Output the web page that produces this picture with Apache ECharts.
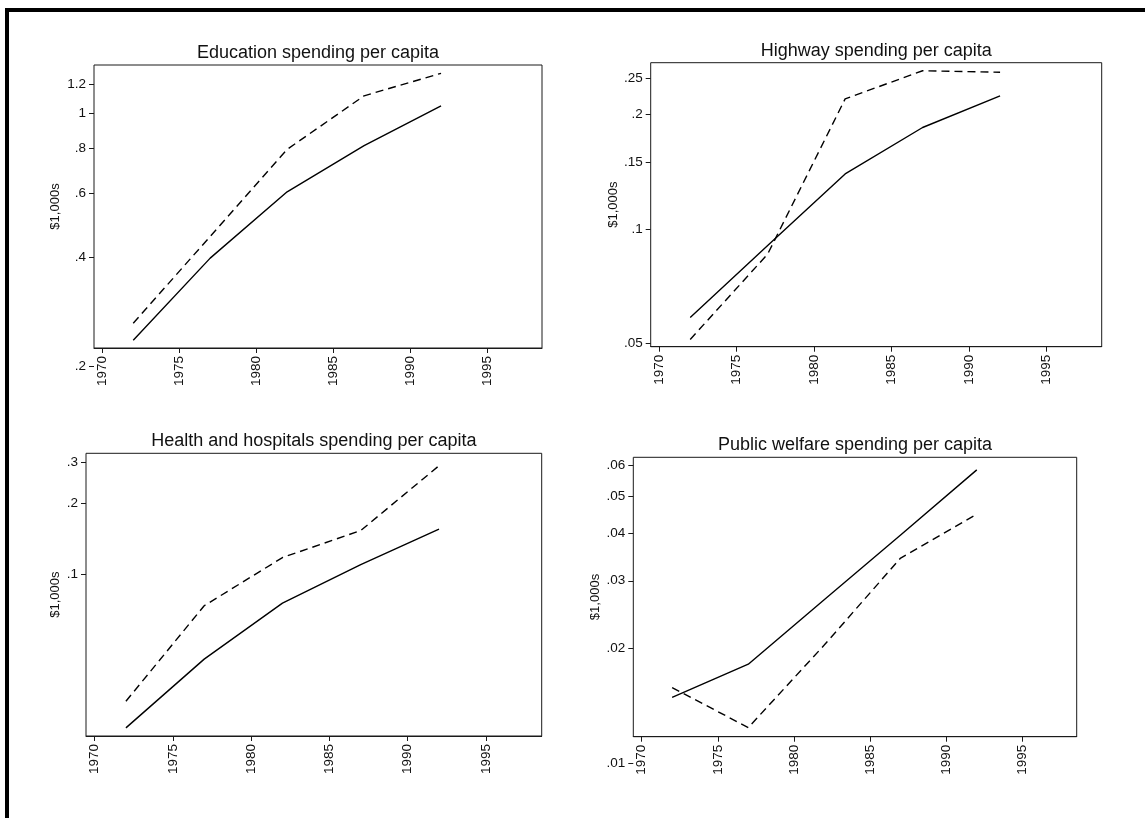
<!DOCTYPE html>
<html><head><meta charset="utf-8">
<script src="https://cdn.jsdelivr.net/npm/echarts@6/dist/echarts.min.js"></script>
<style>html,body{margin:0;padding:0;background:#fff}#c{width:1145px;height:818px}</style>
</head><body><div id="c"></div>
<script>
// ---- data ----
const years = [1972, 1977, 1982, 1987, 1992];
const yearTicks = [1970, 1975, 1980, 1985, 1990, 1995];
const panelTitles = ['Education spending per capita', 'Highway spending per capita',
  'Health and hospitals spending per capita', 'Public welfare spending per capita'];
const yAxisTitle = '$1,000s';

const educationSolid  = [0.236, 0.398, 0.607, 0.814, 1.048];
const educationDashed = [0.263, 0.457, 0.795, 1.118, 1.29];
const highwaySolid    = [0.0585, 0.0905, 0.1396, 0.185, 0.224];
const highwayDashed   = [0.0512, 0.0859, 0.220, 0.261, 0.2585];
const healthSolid     = [0.0221, 0.0434, 0.0752, 0.1098, 0.1555];
const healthDashed    = [0.0287, 0.0733, 0.1177, 0.1534, 0.290];
const welfareSolid    = [0.01487, 0.01815, 0.0268, 0.0395, 0.0585];
const welfareDashed   = [0.01577, 0.01239, 0.0204, 0.0344, 0.0448];

const educationTicks = [0.2, 0.4, 0.6, 0.8, 1, 1.2];
const educationTickLabels = ['.2', '.4', '.6', '.8', '1', '1.2'];
const highwayTicks = [0.05, 0.1, 0.15, 0.2, 0.25];
const highwayTickLabels = ['.05', '.1', '.15', '.2', '.25'];
const healthTicks = [0.1, 0.2, 0.3];
const healthTickLabels = ['.1', '.2', '.3'];
const welfareTicks = [0.01, 0.02, 0.03, 0.04, 0.05, 0.06];
const welfareTickLabels = ['.01', '.02', '.03', '.04', '.05', '.06'];

// axis ranges (value space)
const xRange = [1969.45, 1998.56];
const yRanges = [[0.2247, 1.36], [0.049, 0.274], [0.0204, 0.3276], [0.01173, 0.0631]];

// ---- layout ----
const boxes = [
  {left: 94,    top: 65,    width: 448,   height: 283,   nameGap: 32},
  {left: 650.7, top: 62.7,  width: 451,   height: 284,   nameGap: 31},
  {left: 86,    top: 453.3, width: 455.7, height: 282.7, nameGap: 24},
  {left: 633.3, top: 457.3, width: 443.4, height: 279.4, nameGap: 31}
];

const panels = [
  {solid: educationSolid, dashed: educationDashed, ticks: educationTicks, labels: educationTickLabels},
  {solid: highwaySolid, dashed: highwayDashed, ticks: highwayTicks, labels: highwayTickLabels},
  {solid: healthSolid, dashed: healthDashed, ticks: healthTicks, labels: healthTickLabels},
  {solid: welfareSolid, dashed: welfareDashed, ticks: welfareTicks, labels: welfareTickLabels}
];

const FONT = 'Liberation Sans, Arial, sans-serif';
const TXT = '#111';

const grid = [], xAxis = [], yAxis = [], series = [], title = [];
panels.forEach((p, i) => {
  const b = boxes[i];
  const [yMin, yMax] = yRanges[i];
  const minB = Math.min(yMin, p.ticks[0]);
  const hB = b.height * Math.log(yMax / minB) / Math.log(yMax / yMin);
  const gA = grid.length;
  grid.push({left: b.left, top: b.top, width: b.width, height: b.height,
    show: true, borderColor: '#1a1a1a', borderWidth: 1, backgroundColor: 'transparent'});
  grid.push({left: b.left, top: b.top, width: b.width, height: hB, show: false});

  xAxis.push({gridIndex: gA, type: 'value', min: xRange[0], max: xRange[1], position: 'bottom',
    axisLine: {show: true, onZero: false, lineStyle: {color: '#1a1a1a', width: 1}},
    axisTick: {show: true, length: 5, customValues: yearTicks, lineStyle: {color: '#1a1a1a'}},
    axisLabel: {show: true, customValues: yearTicks, rotate: 90, margin: 8, fontSize: 13.5,
      color: TXT, fontFamily: FONT, formatter: v => String(Math.round(v))},
    splitLine: {show: false}});
  xAxis.push({gridIndex: gA + 1, type: 'value', min: xRange[0], max: xRange[1], show: false});

  yAxis.push({gridIndex: gA, type: 'log', logBase: 10, min: yMin, max: yMax,
    axisLine: {show: false}, axisTick: {show: false}, axisLabel: {show: false}, splitLine: {show: false},
    name: yAxisTitle, nameLocation: 'middle', nameRotate: 90, nameGap: b.nameGap,
    nameTextStyle: {fontSize: 13, color: TXT, fontFamily: FONT}});
  yAxis.push({gridIndex: gA + 1, type: 'log', logBase: 10, min: minB, max: yMax,
    axisLine: {show: false},
    axisTick: {show: true, length: 5, customValues: p.ticks, lineStyle: {color: '#1a1a1a'}},
    axisLabel: {show: true, customValues: p.ticks, margin: 8, fontSize: 13.5, color: TXT, fontFamily: FONT,
      formatter: v => {
        let best = 0, bd = Infinity;
        p.ticks.forEach((t, k) => { const d = Math.abs(Math.log(t) - Math.log(v)); if (d < bd) { bd = d; best = k; } });
        return p.labels[best];
      }},
    splitLine: {show: false}});

  const mk = vals => years.map((y, k) => [y, vals[k]]);
  series.push({type: 'line', name: panelTitles[i] + ' (solid)', xAxisIndex: gA, yAxisIndex: gA,
    data: mk(p.solid), showSymbol: false, symbol: 'none',
    lineStyle: {color: '#000', width: 1.4, type: 'solid'}});
  series.push({type: 'line', name: panelTitles[i] + ' (dashed)', xAxisIndex: gA, yAxisIndex: gA,
    data: mk(p.dashed), showSymbol: false, symbol: 'none',
    lineStyle: {color: '#000', width: 1.4, type: [8, 5]}});

  title.push({text: panelTitles[i], left: b.left + b.width / 2, top: b.top - 21, textAlign: 'center',
    padding: 0, textStyle: {fontSize: 18, fontWeight: 'normal', color: TXT, fontFamily: FONT}});
});

const chart = echarts.init(document.getElementById('c'), null, {renderer: 'canvas'});
chart.setOption({
  animation: false,
  backgroundColor: '#fff',
  title, grid, xAxis, yAxis, series,
  graphic: [
    {type: 'line', shape: {x1: 5, y1: 10, x2: 1145, y2: 10}, style: {stroke: '#000', lineWidth: 4}},
    {type: 'line', shape: {x1: 7, y1: 8, x2: 7, y2: 818}, style: {stroke: '#000', lineWidth: 4}}
  ]
});
</script></body></html>
